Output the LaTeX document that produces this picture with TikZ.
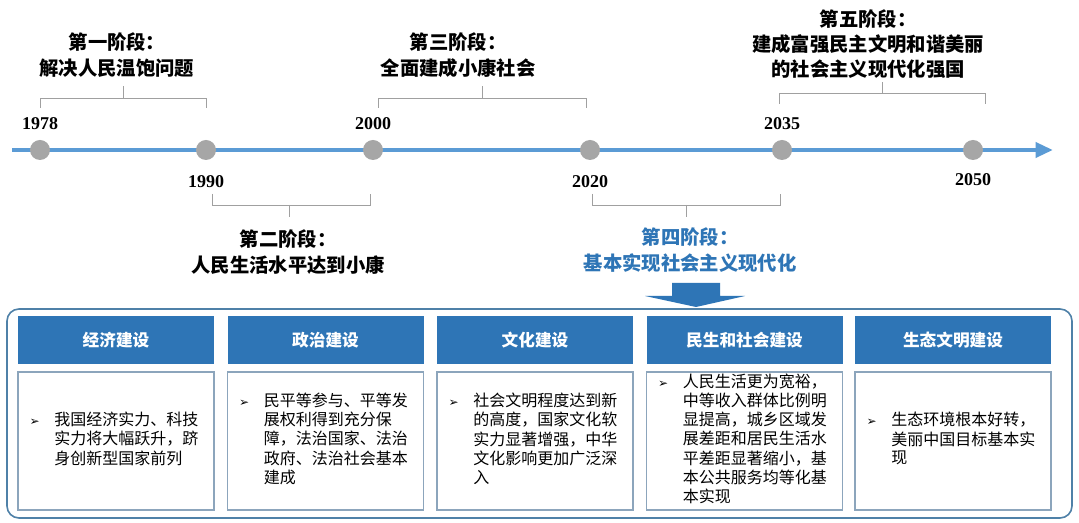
\documentclass[tikz,border=0pt]{standalone}
\usepackage{fontspec}
\setmainfont{Liberation Serif}
\newfontfamily\cjk{Noto Sans CJK SC}
\newfontfamily\djv{DejaVu Sans}
\usetikzlibrary{arrows.meta}
\definecolor{hdr}{HTML}{2E75B6}
\definecolor{tl}{HTML}{5B9BD5}
\definecolor{dotc}{HTML}{A6A6A6}
\definecolor{brk}{HTML}{A0A0A0}
\definecolor{outer}{HTML}{4F81A8}
\definecolor{cbox}{HTML}{8CA5BC}
\begin{document}
\begin{tikzpicture}[x=0.75pt,y=-0.75pt,
  yearlbl/.style={font=\fontsize{13.5pt}{15pt}\selectfont\bfseries},
  stagelbl/.style={font=\fontsize{14.5pt}{19pt}\selectfont\cjk\bfseries,align=center},
  dotn/.style={circle,fill=dotc,minimum size=15pt,inner sep=0pt},
  brkline/.style={draw=brk,line width=0.6pt},
  hdrbox/.style={fill=hdr,minimum width=147pt,minimum height=36pt,inner sep=0pt,text=white,font=\fontsize{12.5pt}{14pt}\selectfont\cjk\bfseries},
  cntbox/.style={draw=cbox,line width=0.8pt,fill=white,minimum width=147pt,minimum height=103.5pt,inner sep=0pt},
  cnttext/.style={font=\fontsize{12pt}{14.1pt}\selectfont\cjk,inner sep=0pt,anchor=west}]
\useasboundingbox (0,0) rectangle (1079,523);
\fill[white] (0,0) rectangle (1079,523);
% timeline
\coordinate (ts) at (12,150);
\coordinate (te) at (1053,150);
\draw[tl,line width=3.5pt,-{Triangle[length=13pt,width=11pt]}] (ts) -- (te);
\foreach \n/\x in {a/40,b/206,c/373,d/590,e/782,f/973}{\node[dotn] (d\n) at (\x,150) {};}
\node[yearlbl] (y1) at (40,124) {1978};
\node[yearlbl] (y2) at (206,182) {1990};
\node[yearlbl] (y3) at (373,124) {2000};
\node[yearlbl] (y4) at (590,182) {2020};
\node[yearlbl] (y5) at (782,124) {2035};
\node[yearlbl] (y6) at (973,180) {2050};
% brackets
\draw[brkline] (40,108) -- (40,98) -- (206,98) -- (206,108);
\draw[brkline] (123,98) -- (123,86);
\draw[brkline] (378,108) -- (378,98) -- (586,98) -- (586,108);
\draw[brkline] (482,98) -- (482,86);
\draw[brkline] (779,104) -- (779,93) -- (985,93) -- (985,104);
\draw[brkline] (882,93) -- (882,82);
\draw[brkline] (212,194) -- (212,205) -- (370,205) -- (370,194);
\draw[brkline] (289,205) -- (289,217);
\draw[brkline] (592,194) -- (592,205) -- (780,205) -- (780,194);
\draw[brkline] (686,205) -- (686,217);
% stage labels
\node[stagelbl] (s1) at (117,55) {第一阶段：\\解决人民温饱问题};
\node[stagelbl] (s3) at (458,55) {第三阶段：\\全面建成小康社会};
\node[stagelbl] (s5) at (868,44) {第五阶段：\\建成富强民主文明和谐美丽\\的社会主义现代化强国};
\node[stagelbl] (s2) at (288,252) {第二阶段：\\人民生活水平达到小康};
\node[stagelbl,text=hdr] (s4) at (690,250) {第四阶段：\\基本实现社会主义现代化};
% down arrow
\fill[hdr] (672,283) -- (720,283) -- (720,296) -- (745,296) -- (696,307) -- (645,296) -- (672,296) -- cycle;
% outer box
\draw[outer,line width=1.2pt,rounded corners=9pt] (7,309) rectangle (1072,518);
% headers and contents
\foreach \n/\x/\t in {1/116/经济建设,2/325.5/政治建设,3/535/文化建设,4/744.5/民生和社会建设,5/953/生态文明建设}{
  \node[hdrbox] (h\n) at (\x,340) {\t};
  \node[cntbox] (c\n) at (\x,441) {};
}
\newcommand\bul{{\djv\fontsize{9pt}{10pt}\selectfont ➢}}
\newcommand\btab[1]{\begin{tabular}{@{}p{18.5pt}@{}l@{}}#1\end{tabular}}
\node[cnttext] (t1) at ([xshift=9pt]c1.west) {\btab{\bul & 我国经济实力、科技\\ & 实力将大幅跃升，跻\\ & 身创新型国家前列}};
\node[cnttext] (t2) at ([xshift=9pt]c2.west) {\btab{\bul & 民平等参与、平等发\\ & 展权利得到充分保\\ & 障，法治国家、法治\\ & 政府、法治社会基本\\ & 建成}};
\node[cnttext] (t3) at ([xshift=9pt]c3.west) {\btab{\bul & 社会文明程度达到新\\ & 的高度，国家文化软\\ & 实力显著增强，中华\\ & 文化影响更加广泛深\\ & 入}};
\node[cnttext] (t4) at ([xshift=9pt]c4.west) {\btab{\bul & 人民生活更为宽裕，\\ & 中等收入群体比例明\\ & 显提高，城乡区域发\\ & 展差距和居民生活水\\ & 平差距显著缩小，基\\ & 本公共服务均等化基\\ & 本实现}};
\node[cnttext] (t5) at ([xshift=9pt]c5.west) {\btab{\bul & 生态环境根本好转，\\ & 美丽中国目标基本实\\ & 现}};
\end{tikzpicture}
\end{document}
